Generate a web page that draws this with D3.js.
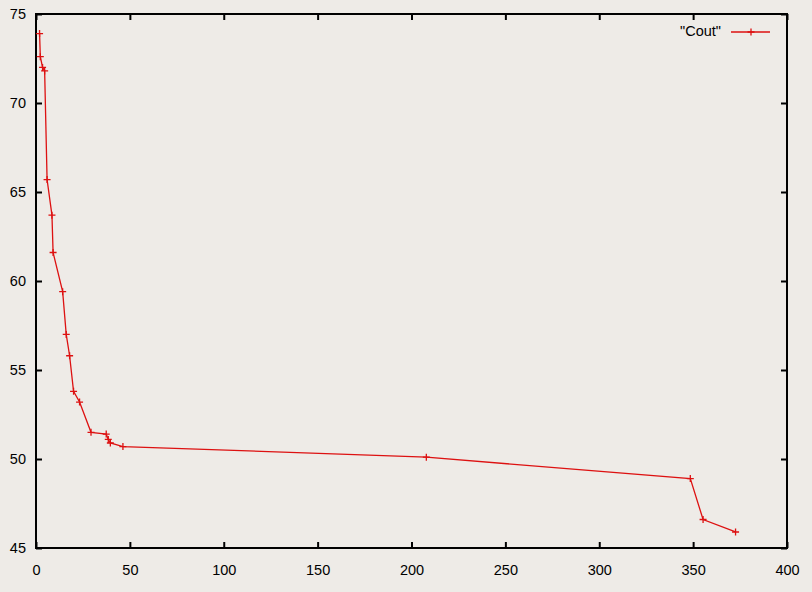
<!DOCTYPE html>
<html>
<head>
<meta charset="utf-8">
<script src="https://cdn.jsdelivr.net/npm/d3@7"></script>
<style>
  body { margin: 0; background: #eeebe7; }
  svg { display: block; }
  .tick text { font-family: "Liberation Sans", Arial, sans-serif; font-size: 14.5px; fill: #000; }
</style>
</head>
<body>
<div id="chart"></div>
<script>
// "Cout" series
const xValues = [1.9, 2.3, 3.5, 4.6, 5.9, 8.5, 9.1, 14.2, 16.1, 17.9, 20.0, 23.2, 29.3, 37.4, 38.5, 39.6, 46.3, 207.9, 348.5, 355.3, 372.6];
const yValues = [73.9, 72.6, 72.0, 71.8, 65.7, 63.7, 61.6, 59.4, 57.0, 55.8, 53.8, 53.2, 51.5, 51.4, 51.1, 50.9, 50.7, 50.1, 48.9, 46.6, 45.9];
const xTicks = [0, 50, 100, 150, 200, 250, 300, 350, 400];
const yTicks = [45, 50, 55, 60, 65, 70, 75];
const seriesName = '"Cout"';

const W = 812, H = 592;
const margin = { top: 14, right: 25, bottom: 44, left: 36 };
const width = W - margin.left - margin.right;
const height = H - margin.top - margin.bottom;

const svg = d3.select("#chart").append("svg")
  .attr("width", W)
  .attr("height", H);

svg.append("rect").attr("width", W).attr("height", H).attr("fill", "#eeebe7");

const g = svg.append("g").attr("transform", `translate(${margin.left},${margin.top})`);

const x = d3.scaleLinear().domain([0, 400]).range([0, width]);
const y = d3.scaleLinear().domain([45, 75]).range([height, 0]);

const tick = 6;

// bottom + left axes with labels, ticks pointing inward
const xAxis = g.append("g").attr("transform", `translate(0,${height})`)
  .call(d3.axisBottom(x).tickValues(xTicks).tickSizeInner(-tick).tickSizeOuter(0).tickPadding(17));
const yAxis = g.append("g")
  .call(d3.axisLeft(y).tickValues(yTicks).tickSizeInner(-tick).tickSizeOuter(0).tickPadding(10));

// mirrored ticks on top and right
const xTop = g.append("g")
  .call(d3.axisTop(x).tickValues(xTicks).tickSizeInner(-tick).tickSizeOuter(0).tickFormat(""));
const yRight = g.append("g").attr("transform", `translate(${width},0)`)
  .call(d3.axisRight(y).tickValues(yTicks).tickSizeInner(-tick).tickSizeOuter(0).tickFormat(""));

[xAxis, yAxis, xTop, yRight].forEach((a) => {
  a.select(".domain").remove();
  a.selectAll(".tick line").attr("stroke", "#000").attr("stroke-width", 2);
});

// frame
g.append("rect")
  .attr("width", width)
  .attr("height", height)
  .attr("fill", "none")
  .attr("stroke", "#000")
  .attr("stroke-width", 2);

const points = xValues.map((v, i) => [v, yValues[i]]);
const red = "#dd1111";

g.append("path")
  .datum(points)
  .attr("fill", "none")
  .attr("stroke", red)
  .attr("stroke-width", 1.3)
  .attr("d", d3.line().x((d) => x(d[0])).y((d) => y(d[1])));

const cross = (sel, cx, cy) => {
  sel.append("path")
    .attr("d", `M${cx - 3.5},${cy}H${cx + 3.5}M${cx},${cy - 3.5}V${cy + 3.5}`)
    .attr("stroke", red)
    .attr("stroke-width", 1.3)
    .attr("fill", "none");
};

const marks = g.append("g");
points.forEach((d) => cross(marks, x(d[0]), y(d[1])));

// legend
const legend = g.append("g").attr("transform", `translate(${width - 56},${18})`);
legend.append("text")
  .attr("x", -10)
  .attr("y", 0)
  .attr("text-anchor", "end")
  .attr("dominant-baseline", "middle")
  .attr("font-family", "Liberation Sans, Arial, sans-serif")
  .attr("font-size", 14.5)
  .attr("fill", "#000")
  .text(seriesName);
legend.append("line")
  .attr("x1", 0).attr("x2", 39)
  .attr("y1", 0).attr("y2", 0)
  .attr("stroke", red)
  .attr("stroke-width", 1.3);
cross(legend, 20, 0);
</script>
</body>
</html>
